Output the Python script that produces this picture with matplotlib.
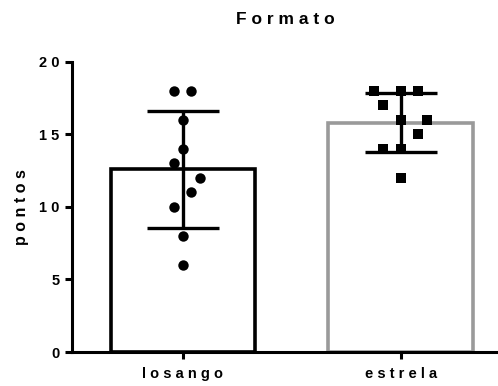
import numpy as np
import matplotlib
matplotlib.use('Agg')
from matplotlib import pyplot

# data
categories = ['losango', 'estrela']
losango    = [18, 18, 16, 14, 13, 12, 11, 10, 8, 6]
estrela    = [18, 18, 18, 17, 16, 16, 15, 14, 14, 12]
# horizontal scatter of the individual points (as drawn)
jit_los    = [-0.04, 0.04, 0, 0, -0.04, 0.08, 0.04, -0.04, 0, 0]
jit_est    = [-0.12, 0, 0.08, -0.08, 0, 0.12, 0.08, -0.08, 0, 0]
yticks     = [0, 5, 10, 15, 20]

groups  = [losango, estrela]
jits    = [jit_los, jit_est]
means   = [np.mean(g) for g in groups]
sds     = [np.std(g, ddof=1) for g in groups]
markers = ['o', 's']
edgec   = ['k', '#9a9a9a']

def spaced(s):
    # wide letter spacing like the original
    return ' '.join(s)

pyplot.rcParams['font.family'] = ['Liberation Sans', 'DejaVu Sans']
pyplot.rcParams['font.weight'] = 'bold'

fig = pyplot.figure(figsize=(4.98, 3.86), dpi=100)
ax  = fig.add_axes([0.1446, 0.088, 0.855, 0.752])

x = np.arange(len(categories))
ax.bar(x, means, width=0.662, color='white', edgecolor=edgec, linewidth=2.6, zorder=1)
ax.errorbar(x, means, yerr=sds, fmt='none', ecolor='k', elinewidth=2.4,
            capsize=26, capthick=2.4, zorder=2)
for i in range(len(groups)):
    ax.plot(x[i] + np.array(jits[i]), groups[i], markers[i], color='k', ms=7.5, mew=0, zorder=3)

ax.set_xlim(-0.508, 1.446)
ax.set_ylim(0, 20)
ax.set_yticks(yticks)
ax.set_yticklabels([spaced(str(t)) for t in yticks])
ax.set_xticks(x)
ax.set_xticklabels([spaced(c) for c in categories])
for s in ['top', 'right']:
    ax.spines[s].set_visible(False)
for s in ['left', 'bottom']:
    ax.spines[s].set_linewidth(2.2)
ax.tick_params(width=2.2, length=5, labelsize=10.5)
ax.tick_params(axis='y', pad=4)
ax.tick_params(axis='x', pad=6)
ax.set_ylabel(spaced('pontos'), fontsize=11.5, fontweight='bold', labelpad=7)
ax.set_title(spaced('Formato'), fontsize=12.5, fontweight='bold', pad=27)

pyplot.savefig('out.png', dpi=100)
